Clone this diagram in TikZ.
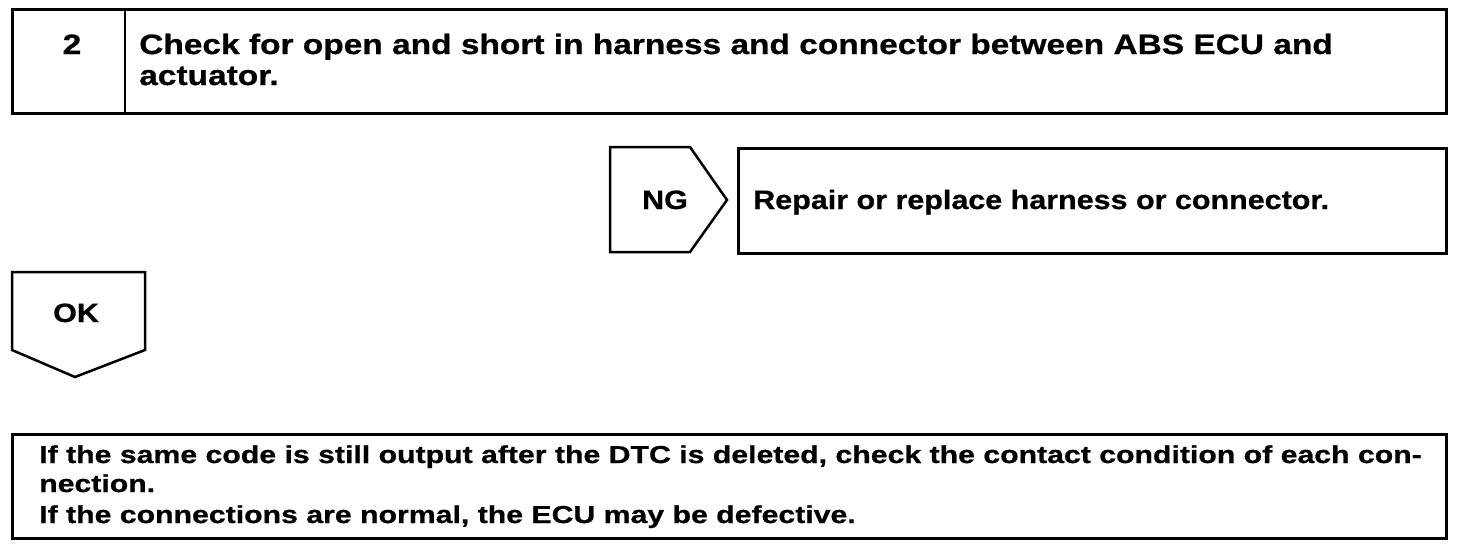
\documentclass[tikz,border=0pt]{standalone}
\usepackage{fontspec}
\setmainfont{Liberation Sans}
\newfontfamily\topfont[FakeStretch=1.195,FakeBold=0.8]{Liberation Sans Bold}
\newfontfamily\midfont[FakeStretch=1.15,FakeBold=0.8]{Liberation Sans Bold}
\newfontfamily\botfont[FakeStretch=1.234,FakeBold=0.8]{Liberation Sans Bold}
\begin{document}
\begin{tikzpicture}[x=1pt,y=-1pt,line width=2.5pt,line join=miter]
\tikzset{
  box/.style={draw,rectangle,inner sep=0pt,anchor=north west},
  bigtxt/.style={font=\topfont\fontsize{28}{30}\selectfont,inner sep=0pt,anchor=base west},
  midtxt/.style={font=\midfont\fontsize{26.5}{30}\selectfont,inner sep=0pt,anchor=base west},
  smalltxt/.style={font=\botfont\fontsize{24.5}{30}\selectfont,inner sep=0pt,anchor=base west}
}
\useasboundingbox (0,0) rectangle (1472,546);
% top box
\node[box,minimum width=1434pt,minimum height=104pt] (top) at (11,8) {};
\draw (125,8) -- (125,112);
\node[bigtxt,anchor=base] (num) at (72,54) {2};
\node[bigtxt] (t1) at (138,54) {Check for open and short in harness and connector between ABS ECU and};
\node[bigtxt] (t2) at (138,85) {actuator.};
% NG
\draw (610,147) -- (690,147) -- (727,200) -- (690,252) -- (610,252) -- cycle;
\node[midtxt,anchor=base] (ng) at (665,209) {NG};
\node[box,minimum width=708pt,minimum height=105pt] (rep) at (737,147) {};
\node[midtxt] (reptxt) at (752,209) {Repair or replace harness or connector.};
% OK
\draw (12,272) -- (145,272) -- (145,350) -- (75,377) -- (12,350) -- cycle;
\node[midtxt,anchor=base] (ok) at (76,322) {OK};
% bottom
\node[box,minimum width=1434pt,minimum height=104pt] (bot) at (11,433) {};
\node[smalltxt] (b1) at (38,463) {If the same code is still output after the DTC is deleted, check the contact condition of each con-};
\node[smalltxt] (b2) at (38,492) {nection.};
\node[smalltxt] (b3) at (38,523) {If the connections are normal, the ECU may be defective.};
\end{tikzpicture}
\end{document}
